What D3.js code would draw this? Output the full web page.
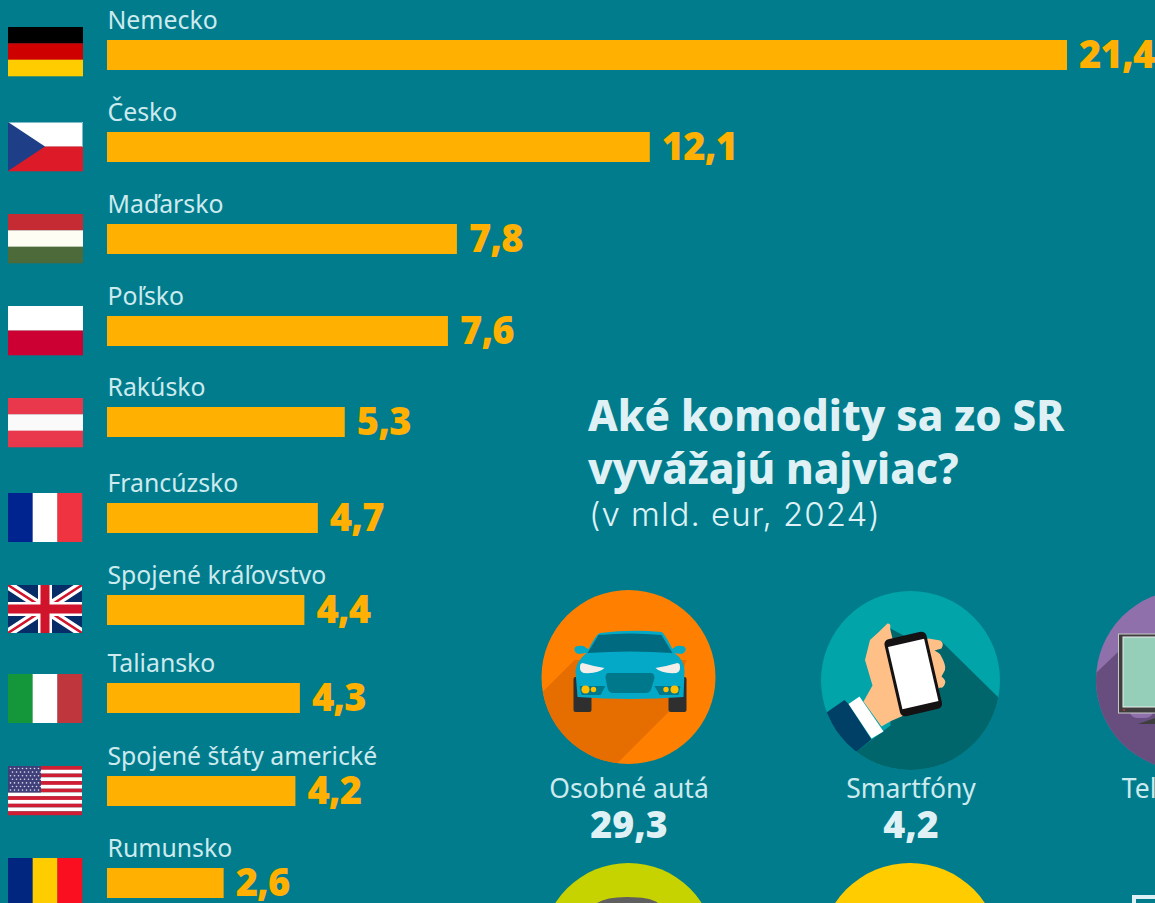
<!DOCTYPE html>
<html>
<head>
<meta charset="utf-8">
<script src="https://cdn.jsdelivr.net/npm/d3@7"></script>
<style>
html, body { margin: 0; padding: 0; background: #007c8d; overflow: hidden; }
svg { display: block; }
</style>
</head>
<body>
<svg id="chart" width="1155" height="903"></svg>
<script>
// data
var countries = ["Nemecko", "Česko", "Maďarsko", "Poľsko", "Rakúsko", "Francúzsko", "Spojené kráľovstvo", "Taliansko", "Spojené štáty americké", "Rumunsko"];
var exports = [21.4, 12.1, 7.8, 7.6, 5.3, 4.7, 4.4, 4.3, 4.2, 2.6];
var commodities = ["Osobné autá", "Smartfóny", "Televízory"];
var commodityValues = [29.3, 4.2, null];

var svg = d3.select("#chart");
var bodyFont = "'Noto Sans', sans-serif";
var titleColor = "#dff1f4";
var labelColor = "#cdeaee";
var barColor = "#ffb000";

svg.append("rect").attr("width", 1155).attr("height", 903).attr("fill", "#007c8d");

// rows are not quite evenly spaced in the original
var xScale = d3.scaleLinear().domain([0, 21.4]).range([107, 1067]);
var rowY = d3.scaleOrdinal().domain(countries)
    .range([40, 132, 224, 316, 407, 503, 595, 683, 776, 868]);

var rows = svg.selectAll("g.row").data(countries).enter().append("g").attr("class", "row");

rows.append("rect")
    .attr("x", xScale(0))
    .attr("y", function(d) { return rowY(d); })
    .attr("width", function(d, i) { return xScale(exports[i]) - xScale(0); })
    .attr("height", 30)
    .attr("fill", barColor);

rows.append("text")
    .attr("x", 107.5)
    .attr("y", function(d) { return rowY(d) - 11; })
    .attr("font-family", bodyFont)
    .attr("font-size", 24.8)
    .attr("fill", labelColor)
    .text(function(d) { return d; });

rows.append("text")
    .attr("x", function(d, i) { return xScale(exports[i]) + 12; })
    .attr("y", function(d) { return rowY(d) + 27.5; })
    .attr("font-family", bodyFont)
    .attr("font-weight", 900)
    .attr("font-size", 38)
    .attr("letter-spacing", -0.8)
    .attr("fill", barColor)
    .text(function(d, i) { return String(exports[i]).replace(".", ","); });

// flags, 75 wide and 49 high
var flagW = 75, flagH = 49;
var flagY = d3.scaleOrdinal().domain(countries)
    .range([27, 122, 214, 306, 398, 493, 585, 674, 766, 858]);

function hStripes(g, cols) {
    cols.forEach(function(c, i) {
        g.append("rect").attr("y", i * flagH / cols.length).attr("width", flagW).attr("height", flagH / cols.length + 0.3).attr("fill", c);
    });
}
function vStripes(g, cols) {
    var w = 74;
    cols.forEach(function(c, i) {
        g.append("rect").attr("x", i * w / cols.length).attr("width", w / cols.length + 0.3).attr("height", flagH).attr("fill", c);
    });
}
function czech(g) {
    hStripes(g, ["#ffffff", "#dc1a28"]);
    g.append("path").attr("d", "M0,0.5H74.5V24.5").attr("fill", "none").attr("stroke", "#7fbcc6");
    g.append("path").attr("d", "M0,0L37,24.5L0,49Z").attr("fill", "#1e3f87");
}
svg.append("clipPath").attr("id", "clipUk").append("rect").attr("width", 74).attr("height", 48);
function uk(g) {
    g.attr("clip-path", "url(#clipUk)");
    g.append("rect").attr("width", 74).attr("height", 48).attr("fill", "#062d68");
    g.append("path").attr("d", "M0,0L74,48M74,0L0,48").attr("stroke", "#fff").attr("stroke-width", 9);
    g.append("path").attr("d", "M0,0L74,48M74,0L0,48").attr("stroke", "#cf142b").attr("stroke-width", 2.5);
    g.append("path").attr("d", "M37,0V48M0,24H74").attr("stroke", "#fff").attr("stroke-width", 14);
    g.append("path").attr("d", "M37,0V48M0,24H74").attr("stroke", "#cf142b").attr("stroke-width", 9);
}
function usa(g) {
    var n = 13;
    for (var i = 0; i < n; i++) {
        g.append("rect").attr("y", i * flagH / n).attr("width", 74).attr("height", flagH / n + 0.2)
            .attr("fill", i % 2 == 0 ? "#cf1e34" : "#ffffff");
    }
    g.append("rect").attr("width", 33).attr("height", 26.5).attr("fill", "#3f3f7a");
    for (var r = 0; r < 7; r++) {
        for (var c = 0; c < 8; c++) {
            g.append("circle").attr("cx", 2.5 + c * 4 + (r % 2) * 2).attr("cy", 2.5 + r * 3.6).attr("r", 0.8).attr("fill", "#d9d9e8");
        }
    }
}
var flagPainters = [
    function(g) { hStripes(g, ["#000000", "#cf0000", "#ffcc00"]); },
    czech,
    function(g) { hStripes(g, ["#c42b33", "#fdfdf3", "#4d6a3b"]); },
    function(g) { hStripes(g, ["#ffffff", "#cc0033"]); },
    function(g) { hStripes(g, ["#e9374b", "#fafafa", "#e9374b"]); },
    function(g) { vStripes(g, ["#00248f", "#ffffff", "#ef3340"]); },
    uk,
    function(g) { vStripes(g, ["#14973a", "#ffffff", "#c0363d"]); },
    usa,
    function(g) { vStripes(g, ["#00267f", "#ffcc00", "#f90f1f"]); }
];
rows.append("g")
    .attr("transform", function(d) { return "translate(8," + flagY(d) + ")"; })
    .each(function(d, i) { flagPainters[i](d3.select(this)); });

// title
var title = svg.append("g");
title.append("text").attr("x", 588).attr("y", 430.5)
    .attr("font-family", bodyFont).attr("font-weight", 800).attr("font-size", 42)
    .attr("fill", titleColor).text("Aké komodity sa zo SR");
title.append("text").attr("x", 588).attr("y", 483.5)
    .attr("font-family", bodyFont).attr("font-weight", 800).attr("font-size", 42)
    .attr("fill", titleColor).text("vyvážajú najviac?");
title.append("text").attr("x", 589).attr("y", 526)
    .attr("font-family", "Inter, sans-serif").attr("font-weight", 300).attr("font-size", 33)
    .attr("letter-spacing", 1)
    .attr("fill", titleColor).text("(v mld. eur, 2024)");

// commodity circles
var circleX = d3.scaleOrdinal().domain(commodities).range([628.5, 910.5, 1186]);
var labelX = d3.scaleOrdinal().domain(commodities).range([629, 911, 1183]);

function clipCircle(id, r) {
    svg.append("clipPath").attr("id", id).append("circle").attr("r", r);
}

// car
var car = svg.append("g").attr("transform", "translate(" + circleX(commodities[0]) + ",677)");
clipCircle("clipCar", 87);
car.append("circle").attr("r", 87).attr("fill", "#ff8000");
car.append("path").attr("clip-path", "url(#clipCar)")
    .attr("d", "M-86,15L-54,-17L58,-17L40,35L-20,95L-95,95Z").attr("fill", "#e66e00");
car.append("rect").attr("x", -55).attr("y", 0).attr("width", 18).attr("height", 35).attr("rx", 2).attr("fill", "#2f2f2f");
car.append("rect").attr("x", 40).attr("y", 0).attr("width", 18).attr("height", 35).attr("rx", 2).attr("fill", "#2f2f2f");
car.append("path").attr("d", "M-42,-24L-50,-23Q-55,-25 -54,-29Q-52,-32 -45,-31L-39,-27Z").attr("fill", "#04a9c7");
car.append("path").attr("d", "M45,-24L53,-23Q58,-25 57,-29Q55,-32 48,-31L42,-27Z").attr("fill", "#04a9c7");
car.append("path").attr("d", "M-28,-44Q2,-48 33,-45Q36,-44 46,-24Q56,-17 56,-6L55,20Q2,24 -51,20L-53,-6Q-52,-16 -42,-24Q-32,-44 -28,-44Z").attr("fill", "#04a9c7");
car.append("path").attr("d", "M-30,-42Q2,-45 33,-42L44,-24Q2,-27 -41,-24Z").attr("fill", "#006b80");
car.append("path").attr("d", "M-46,-14Q-36,-11 -24,-9Q-30,-3 -45,-4Q-50,-6 -48,-13ZM49,-14Q39,-11 27,-9Q33,-3 48,-4Q53,-6 51,-13Z").attr("fill", "#f3eeea");
car.append("path").attr("d", "M-20,-4H22Q26,-4 26,1L23,11Q22,16 17,16H-15Q-20,16 -21,11L-23,1Q-23,-4 -20,-4Z").attr("fill", "#00788c");
car.append("path").attr("d", "M-49,9H-23L-28,18H-47ZM52,9H26L31,18H50Z").attr("fill", "#00788c");
[[-43, 12.5, 4], [-35, 12.5, 2.7], [37.5, 12.5, 2.7], [46, 12.5, 4]].forEach(function(l) {
    car.append("circle").attr("cx", l[0]).attr("cy", l[1]).attr("r", l[2]).attr("fill", "#ffbf00");
});

// smartphone
var phone = svg.append("g").attr("transform", "translate(" + circleX(commodities[1]) + ",680.5)");
clipCircle("clipPhone", 89.5);
phone.append("circle").attr("r", 89.5).attr("fill", "#00a4a9");
phone.append("g").attr("clip-path", "url(#clipPhone)").call(function(g) {
    g.append("path").attr("d", "M-20,-52L-5,-44L30,-40L88,17L95,100L-60,100L-54,71L-20,45Z").attr("fill", "#00666b");
    g.append("path").attr("d", "M-84,32L-66,19.5L-62,23.5L-39,59L-54,71L-90,80L-100,40Z").attr("fill", "#003f66");
});
phone.append("path").attr("d", "M-45.5,-20.5L-40.5,-40.5Q-32,-48 -23,-57Q-19,-57 -20.5,-52L-15,-30L18,-42L30,-40Q34,-37 31,-32L24,-30Q30,-27 30,-25.5Q36,-15 34.5,-10.5L31,-4Q36,0 34.5,3Q33,8 29.5,7L-9,36Q-20,40 -29,46L-47,21L-38,5Z").attr("fill", "#ffc088");
phone.append("path").attr("d", "M-62,23.5L-51,16L-27,51L-39,58Z").attr("fill", "#ffffff");
phone.append("g").attr("transform", "translate(2.75,-6.5) rotate(-13)").call(function(g) {
    g.append("rect").attr("x", -21.5).attr("y", -39.5).attr("width", 43).attr("height", 79).attr("rx", 5).attr("fill", "#151214");
    g.append("rect").attr("x", -18.5).attr("y", -32).attr("width", 37).attr("height", 64).attr("fill", "#ffffff");
});

// tv, mostly off the right edge
var tv = svg.append("g").attr("transform", "translate(" + circleX(commodities[2]) + ",680)");
clipCircle("clipTv", 90);
tv.append("circle").attr("r", 90).attr("fill", "#8f70aa");
tv.append("path").attr("clip-path", "url(#clipTv)").attr("d", "M-90,-7L-68,-28L40,-28L40,95L-90,95Z").attr("fill", "#684e7e");
tv.append("path").attr("d", "M-48,44L-25,36H60V44Z").attr("fill", "#3e3e3e");
tv.append("path").attr("d", "M-56,33H-33Q-35,38 -42,38H-48Q-54,38 -56,33Z").attr("fill", "#8f70aa");
tv.append("rect").attr("x", -67.5).attr("y", -46).attr("width", 130).attr("height", 79).attr("fill", "#3e3e3e").attr("stroke", "#c9c9c9");
tv.append("rect").attr("x", -63).attr("y", -43).attr("width", 120).attr("height", 70).attr("fill", "#95cfba").attr("stroke", "#eeeeee");
tv.append("circle").attr("cx", -62).attr("cy", 30).attr("r", 1).attr("fill", "#c0392b");

// labels under the circles
commodities.forEach(function(c, i) {
    svg.append("text").attr("x", labelX(c)).attr("y", 798)
        .attr("text-anchor", "middle").attr("font-family", bodyFont).attr("font-size", 26.5)
        .attr("fill", labelColor).text(c);
    if (commodityValues[i] != null) {
        svg.append("text").attr("x", labelX(c)).attr("y", 838)
            .attr("text-anchor", "middle").attr("font-family", bodyFont).attr("font-weight", 900).attr("font-size", 37.5)
            .attr("fill", titleColor).text(String(commodityValues[i]).replace(".", ","));
    }
});

// next row of circles, cut by the bottom edge
svg.append("circle").attr("cx", 628.5).attr("cy", 950).attr("r", 87).attr("fill", "#c6d300");
svg.append("path").attr("d", "M597,903Q606,897 627,897Q650,897 658,903Z").attr("fill", "#5f5f5f");
svg.append("circle").attr("cx", 910).attr("cy", 953).attr("r", 90).attr("fill", "#ffcc00");
svg.append("path").attr("d", "M1132,903V895H1155V899H1136V903Z").attr("fill", titleColor);
</script>
</body>
</html>
